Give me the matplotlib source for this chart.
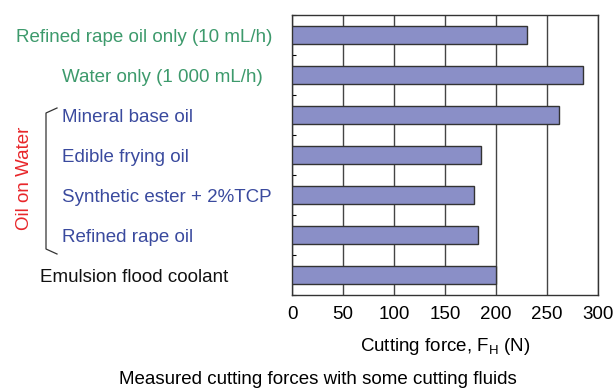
import matplotlib.pyplot as plt
from matplotlib.ticker import MultipleLocator

plt.rcParams['font.family'] = ['Liberation Sans', 'DejaVu Sans']

labels = [
    "Refined rape oil only (10 mL/h)",
    "Water only (1 000 mL/h)",
    "Mineral base oil",
    "Edible frying oil",
    "Synthetic ester + 2%TCP",
    "Refined rape oil",
    "Emulsion flood coolant",
]
forces = [230, 285, 262, 185, 178, 182, 200]
label_colors = ["#3d9a6c", "#3d9a6c", "#3a4a9e", "#3a4a9e", "#3a4a9e", "#3a4a9e", "#111111"]
xticks = [0, 50, 100, 150, 200, 250, 300]

W, H = 614, 388
fig = plt.figure(figsize=(W / 100, H / 100), dpi=100)
ax = fig.add_axes([292 / W, 1 - 295 / H, 306 / W, 280 / H])

ypos = list(range(len(forces)))
ax.barh(ypos, forces, height=0.45, color="#8a8fc7", edgecolor="#333333", linewidth=1.0, zorder=3)
ax.set_xlim(0, 300)
ax.set_ylim(len(forces) - 0.5, -0.5)
ax.set_xticks(xticks)
ax.tick_params(axis="x", length=0, labelsize=13.5, pad=8)
ax.set_yticks([])
ax.yaxis.set_minor_locator(MultipleLocator(1, offset=0.5))
ax.tick_params(axis="y", which="minor", direction="in", length=3, width=0.8, left=True)
ax.xaxis.grid(True, color="#444444", linewidth=1.0, zorder=0)
for s in ax.spines.values():
    s.set_linewidth(1.0)
    s.set_color("#333333")

ax.set_xlabel("Cutting force, F$_{\\mathregular{H}}$ (N)", fontsize=13.5, labelpad=9)

# category labels, drawn left of the axes
right_x = [272, 263]
for i, (lab, col) in enumerate(zip(labels, label_colors)):
    y = ax.transData.transform((0, i))[1] / H
    if i < 2:
        fig.text(right_x[i] / W, y, lab, color=col, ha="right", va="center_baseline", fontsize=13.5)
    elif i < 6:
        fig.text(62 / W, y, lab, color=col, ha="left", va="center_baseline", fontsize=13.5)
    else:
        fig.text(40 / W, y, lab, color=col, ha="left", va="center_baseline", fontsize=13.5)

# bracket for the oil-on-water group
bx = [57 / W, 46 / W, 46 / W, 57 / W]
by = [1 - 108 / H, 1 - 113 / H, 1 - 249 / H, 1 - 254 / H]
fig.add_artist(plt.Line2D(bx, by, color="#333333", linewidth=0.9))
fig.text(25 / W, 1 - 178 / H, "Oil on Water", color="#e8262a", rotation=90,
         ha="center", va="center", fontsize=13.5)

fig.text(318 / W, 1 - 379 / H, "Measured cutting forces with some cutting fluids",
         ha="center", va="center", fontsize=13.5)

fig.savefig("out.png", dpi=100)
